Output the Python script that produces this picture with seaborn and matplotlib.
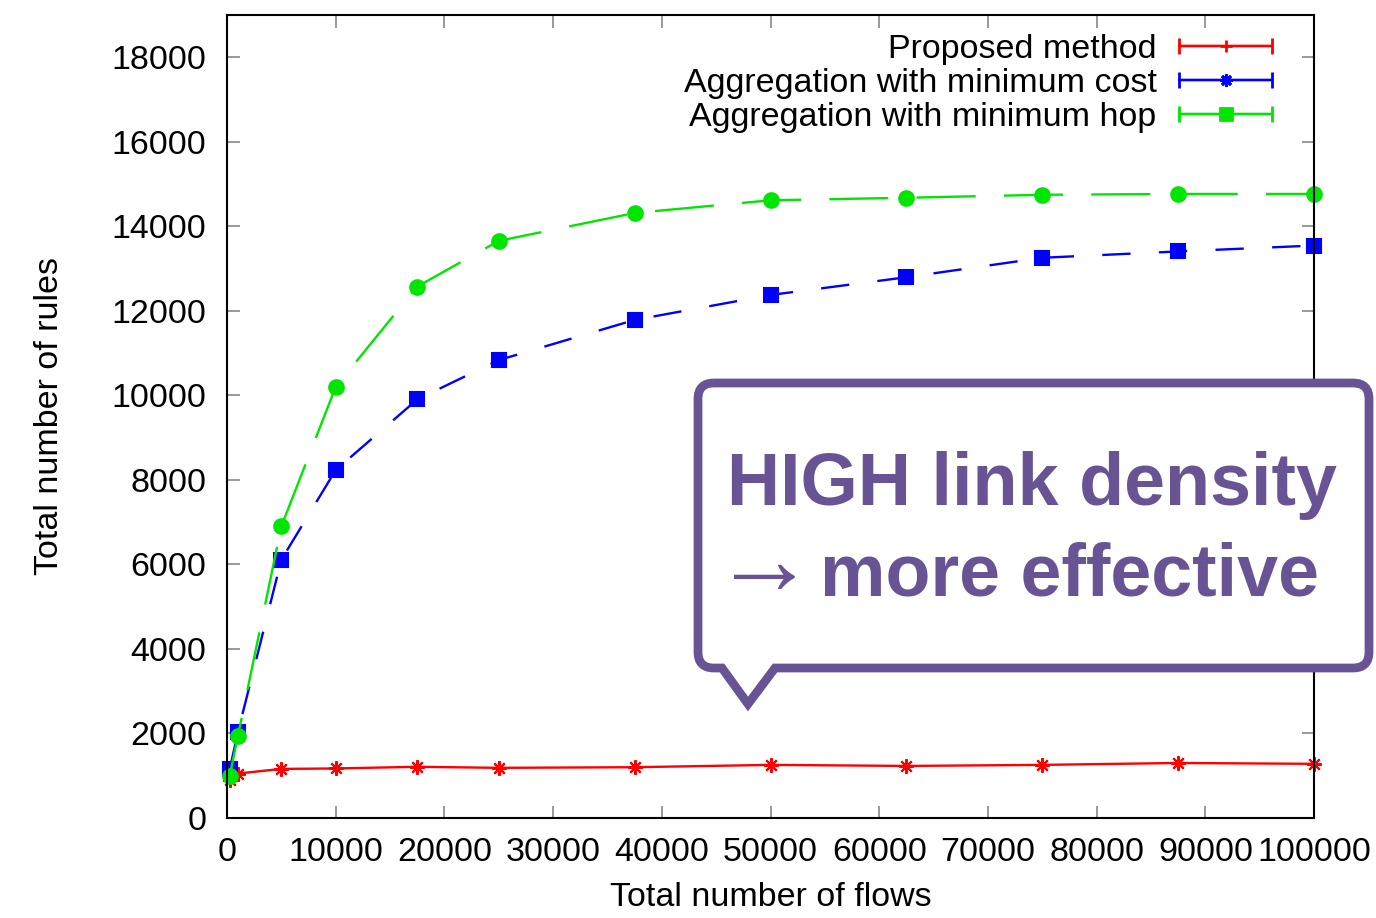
#!/usr/bin/env python3
import matplotlib
matplotlib.use('Agg')
import matplotlib.pyplot as plt
from matplotlib.path import Path
from matplotlib.patches import PathPatch
from matplotlib.container import ErrorbarContainer
from matplotlib.legend_handler import HandlerErrorbar
import numpy as np
import pandas as pd
import seaborn as sns


FLOWS = [250, 1000, 5000, 10000, 17500, 25000, 37500,
         50000, 62500, 75000, 87500, 100000]
PROPOSED = [900, 1050, 1160, 1170, 1210, 1185, 1200,
            1255, 1230, 1255, 1300, 1280]
MIN_COST = [1150, 2030, 6110, 8230, 9900, 10830, 11780,
            12370, 12790, 13250, 13400, 13540]
MIN_HOP = [1000, 1940, 6900, 10200, 12570, 13650, 14310,
           14610, 14670, 14740, 14760, 14760]

NAMES = ['Proposed method',
         'Aggregation with minimum cost',
         'Aggregation with minimum hop']
COLORS = ['#ff0000', '#0000ff', '#00e600']
PLOT_MARKERS = [(8, 2, 0), 's', 'o']
LEGEND_MARKERS = ['+', (8, 2, 0), 's']
DASHES = [(None, None), (12, 12), (25, 12)]

X_TICKS = list(range(0, 100001, 10000))
Y_TICKS = list(range(0, 18001, 2000))

PURPLE = '#685494'
W, H = 1376, 918
FS = 24.5


def fig_xy(x, y):
    # pixel position (top-left origin) -> figure fraction
    return x / W, (H - y) / H


def callout_path(left, top, right, bottom, r, tail):
    tl, tr, ta = tail  # tail base left/right x, apex (x, y)
    pts = [(left + r, top), (right - r, top), (right, top), (right, top + r),
           (right, bottom - r), (right, bottom), (right - r, bottom),
           (tr, bottom), ta, (tl, bottom),
           (left + r, bottom), (left, bottom), (left, bottom - r),
           (left, top + r), (left, top), (left + r, top)]
    codes = [Path.MOVETO, Path.LINETO, Path.CURVE3, Path.CURVE3,
             Path.LINETO, Path.CURVE3, Path.CURVE3,
             Path.LINETO, Path.LINETO, Path.LINETO,
             Path.LINETO, Path.CURVE3, Path.CURVE3,
             Path.LINETO, Path.CURVE3, Path.CURVE3]
    return Path([fig_xy(*p) for p in pts], codes)


series = [PROPOSED, MIN_COST, MIN_HOP]

sns.set_style('ticks')
plt.rcParams['font.family'] = ['Liberation Sans', 'DejaVu Sans']
plt.rcParams.update({'text.color': 'black', 'axes.labelcolor': 'black',
                     'xtick.labelcolor': 'black', 'ytick.labelcolor': 'black'})

fig = plt.figure(figsize=(13.76, 9.18), dpi=100)
ax = fig.add_axes([0.165, 0.109, 0.790, 0.875])

for name, vals, c, m, d in zip(NAMES, series, COLORS, PLOT_MARKERS, DASHES):
    df = pd.DataFrame({'flows': FLOWS, 'rules': vals})
    line_kw = dict(color=c, marker=m, markersize=10.5, markeredgewidth=1.5,
                   markeredgecolor=c, linewidth=1.7, clip_on=False, ax=ax)
    if d[0] is not None:
        line_kw['dashes'] = d
    sns.lineplot(data=df, x='flows', y='rules', **line_kw)

ax.set_xlim(0, 100000)
ax.set_ylim(0, 19000)
ax.set_xticks(X_TICKS)
ax.set_yticks(Y_TICKS)
ax.tick_params(direction='in', length=9, width=1.2, color='#888888',
               labelsize=FS, pad=14, top=True, right=True)
ax.tick_params(axis='y', pad=15)
for s in ax.spines.values():
    s.set_linewidth(1.5)
    s.set_color('black')
ax.set_xlabel('Total number of flows', fontsize=FS, labelpad=10)
ax.set_ylabel('Total number of rules', fontsize=FS, labelpad=33)

# gnuplot style legend entries (error bar glyphs)
handles = []
for name, c, m in zip(NAMES, COLORS, LEGEND_MARKERS):
    h = ax.errorbar([np.nan], [np.nan], xerr=[1], color=c, marker=m,
                    markersize=9, markeredgewidth=2, linewidth=1.7,
                    elinewidth=1.7, capsize=6, capthick=1.7, label=name)
    handles.append(h)
ax.legend(handles=handles, loc='upper right', bbox_to_anchor=(0.982, 1.003),
          frameon=False, markerfirst=False, fontsize=FS, handlelength=2.75,
          labelspacing=0.08, handletextpad=0.65, borderaxespad=0.25,
          numpoints=1,
          handler_map={ErrorbarContainer: HandlerErrorbar(xerr_size=1.37)})

# speech bubble annotation
bubble = callout_path(698, 383, 1369, 668, 16, (722, 775, (748, 704)))
fig.patches.append(PathPatch(bubble, transform=fig.transFigure,
                             facecolor='white', edgecolor=PURPLE,
                             linewidth=6.3, joinstyle='miter', zorder=5))
fig.text(*fig_xy(727, 505), 'HIGH link density', color=PURPLE, fontsize=53,
         fontweight='bold', ha='left', va='baseline', zorder=6)
fig.text(*fig_xy(712, 594), '\u2192', color=PURPLE, fontsize=74,
         ha='left', va='baseline', zorder=6)
fig.text(*fig_xy(820, 595), 'more effective', color=PURPLE, fontsize=53,
         fontweight='bold', ha='left', va='baseline', zorder=6)

fig.savefig('out.png', dpi=100, facecolor='white')
plt.close(fig)
